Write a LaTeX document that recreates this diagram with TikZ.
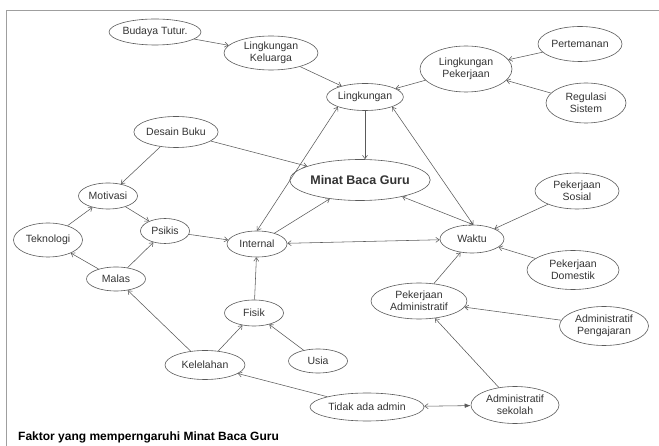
\documentclass[tikz,border=0pt]{standalone}
\usepackage{fontspec}
\setmainfont{Liberation Sans}
\usetikzlibrary{shapes.geometric,arrows.meta}
\definecolor{linec}{HTML}{5A5A5A}
\definecolor{txtc}{HTML}{333333}
\tikzset{
  el/.style={ellipse, draw=linec, line width=0.6pt, inner sep=0pt, align=center,
    text=txtc, font=\fontsize{10.5}{12}\selectfont},
  conn/.style={draw=linec, line width=0.55pt, -{Straight Barb[length=3.5pt,width=5pt]}},
  biconn/.style={draw=linec, line width=0.55pt, {Straight Barb[length=3.5pt,width=5pt]}-{Straight Barb[length=3.5pt,width=5pt]}},
}
\begin{document}
\begin{tikzpicture}[x=1pt,y=-1pt]
\useasboundingbox (0,0) rectangle (659,446);
\draw[gray!75, line width=0.7pt] (6,446) -- (6,10) -- (659,10);

% nodes
\node[el, minimum width=75pt, minimum height=26pt] (bud) at (155,32) {Budaya Tutur.};
\node[el, minimum width=94pt, minimum height=34pt] (kel) at (271,53) {Lingkungan\\Keluarga};
\node[el, minimum width=70pt, minimum height=27pt] (lin) at (365,97) {Lingkungan};
\node[el, minimum width=92pt, minimum height=46pt] (lpk) at (466,69) {Lingkungan\\Pekerjaan};
\node[el, minimum width=84pt, minimum height=35pt] (per) at (580,44) {Pertemanan};
\node[el, minimum width=80pt, minimum height=40pt] (reg) at (586,103) {Regulasi\\Sistem};
\node[el, minimum width=72pt, minimum height=31pt] (des) at (176,132) {Desain Buku};
\node[el, minimum width=126pt, minimum height=41pt, font=\fontsize{12.5}{14}\selectfont\bfseries] (min) at (360,180) {Minat Baca Guru};
\node[el, minimum width=59pt, minimum height=26pt] (mot) at (108,196) {Motivasi};
\node[el, minimum width=49pt, minimum height=25pt] (psi) at (165,231) {Psikis};
\node[el, minimum width=69pt, minimum height=34pt] (tek) at (48,240) {Teknologi};
\node[el, minimum width=59pt, minimum height=24pt] (mal) at (116,279) {Malas};
\node[el, minimum width=60pt, minimum height=26pt] (int) at (257,244) {Internal};
\node[el, minimum width=64pt, minimum height=28pt] (wak) at (472,239) {Waktu};
\node[el, minimum width=84pt, minimum height=36pt] (sos) at (577,191) {Pekerjaan\\Sosial};
\node[el, minimum width=92pt, minimum height=39pt] (dom) at (573,270) {Pekerjaan\\Domestik};
\node[el, minimum width=96pt, minimum height=36pt] (pad) at (419,301) {Pekerjaan\\Administratif};
\node[el, minimum width=89pt, minimum height=39pt] (apj) at (604,326) {Administratif\\Pengajaran};
\node[el, minimum width=88pt, minimum height=37pt] (ask) at (515,405) {Administratif\\sekolah};
\node[el, minimum width=114pt, minimum height=28pt] (tid) at (367,407) {Tidak ada admin};
\node[el, minimum width=59pt, minimum height=26pt] (fis) at (254,313) {Fisik};
\node[el, minimum width=59pt, minimum height=24pt] (usi) at (318,361) {Usia};
\node[el, minimum width=80pt, minimum height=29pt] (kll) at (205,365) {Kelelahan};

\node[anchor=base west, inner sep=0pt, text=black, font=\fontsize{12}{14}\selectfont\bfseries] (title) at (18,440) {Faktor yang memperngaruhi Minat Baca Guru};

% connectors
\draw[conn] (bud) -- (kel);
\draw[conn] (kel) -- (lin);
\draw[conn] (lpk) -- (lin);
\draw[conn] (per) -- (lpk);
\draw[conn] (reg) -- (lpk);
\draw[conn] (lin.south) -- (lin.south |- min.north);
\draw[biconn] (int.north) -- (lin.200);
\draw[biconn] (wak.85) -- (lin.340);
\draw[conn] (des) -- (min);
\draw[conn] (des) -- (mot);
\draw[conn] (int) -- (min);
\draw[biconn] (wak.85) -- (min);
\draw[biconn] (int) -- (wak);
\draw[conn] (mot) -- (psi);
\draw[conn] (tek) -- (mot);
\draw[conn] (mal) -- (tek);
\draw[conn] (mal) -- (psi);
\draw[conn] (psi) -- (int);
\draw[conn] (fis) -- (int);
\draw[conn] (kll) -- (fis);
\draw[conn] (usi) -- (fis);
\draw[conn] (kll) -- (mal);
\draw[conn] (tid) -- (kll);
\draw[draw=linec, line width=0.55pt, {Straight Barb[length=3.5pt,width=5pt]}-{Latex[length=6pt,width=4.5pt]}] (tid) -- (ask);
\draw[conn] (ask) -- (pad);
\draw[conn] (apj) -- (pad);
\draw[conn] (pad) -- (wak);
\draw[conn] (sos) -- (wak);
\draw[conn] (dom) -- (wak);
\end{tikzpicture}
\end{document}
